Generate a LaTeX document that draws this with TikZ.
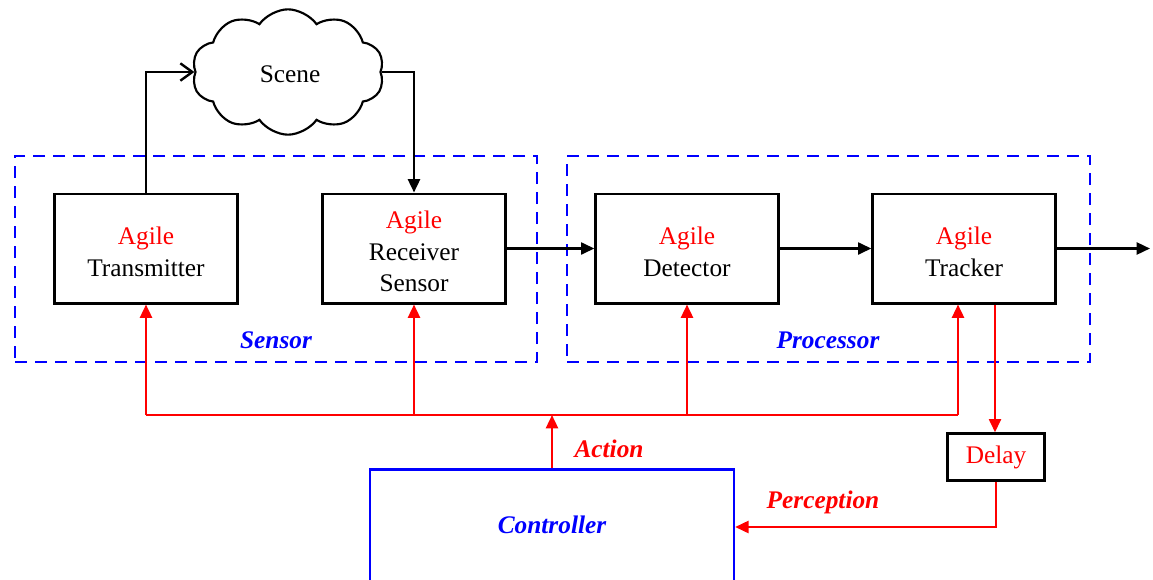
\documentclass[tikz,border=0pt]{standalone}
\usepackage{fontspec}
\setmainfont{Liberation Serif}
\usetikzlibrary{arrows.meta,shapes.symbols,calc}
\definecolor{agred}{RGB}{255,0,0}
\definecolor{agblue}{RGB}{0,0,255}
\begin{document}
\begin{tikzpicture}[x=0.75pt,y=-0.75pt,
  font=\fontsize{19}{23.8}\selectfont,
  block/.style={draw=black,line width=2pt,minimum width=137pt,minimum height=82pt,align=center,inner sep=0pt},
  group/.style={draw=agblue,line width=1.8pt,dash pattern=on 9pt off 6pt,inner sep=0pt},
  grouplabel/.style={text=agblue,font=\fontsize{19}{22}\selectfont\bfseries\itshape},
  sig/.style={draw=black,line width=1.8pt},
  sigarrow/.style={sig,-{Triangle[length=10pt,width=9pt]}},
  ctl/.style={draw=agred,line width=1.8pt},
  ctlarrow/.style={ctl,-{Triangle[length=10pt,width=9pt]}},
  ctllabel/.style={text=agred,font=\fontsize{19}{22}\selectfont\bfseries\itshape}]
\useasboundingbox (0,0) rectangle (1153,579);
\clip (0,0) rectangle (1153,579);

% dashed group frames
\node[group,minimum width=391.5pt,minimum height=154.5pt] (sensorgrp) at (276,259) {};
\node[group,minimum width=392.25pt,minimum height=154.5pt] (procgrp) at (828.5,259) {};
\node[grouplabel] (sensorlbl) at (276,340) {Sensor};
\node[grouplabel] (proclbl) at (828,340) {Processor};

% processing chain (text nudged slightly below the box centre)
\node[block] (tx)  at (146,248.5) {};
\node[block] (rx)  at (414,248.5) {};
\node[block] (det) at (687,248.5) {};
\node[block] (trk) at (964,248.5) {};
\node[align=center] (txt)  at (146,251.5) {\textcolor{agred}{Agile}\\Transmitter};
\node[align=center] (rxt)  at (414,251.5) {\textcolor{agred}{Agile}\\Receiver\\Sensor};
\node[align=center] (dett) at (687,251.5) {\textcolor{agred}{Agile}\\Detector};
\node[align=center] (trkt) at (964,251.5) {\textcolor{agred}{Agile}\\Tracker};

% scene
\node[cloud,cloud puffs=10,cloud puff arc=110,aspect=1.6,draw=black,line width=1.6pt,
      minimum width=144pt,minimum height=94pt,inner sep=0pt] (scene) at (288,72) {};
\node (scenet) at (290,74) {Scene};

% delay and controller
\node[draw=black,line width=2pt,minimum width=73pt,minimum height=35pt,inner sep=0pt,text=agred] (delay) at (996,457) {Delay};
\node[draw=agblue,line width=1.8pt,minimum width=273pt,minimum height=86pt,inner sep=0pt] (ctrl) at (552,527) {};
\node[grouplabel] (ctrllbl) at (552,525) {Controller};

% signal path
\draw[sig,-{Straight Barb[length=9pt,width=13pt]}] (tx.north) |- (scene.west);
\draw[sigarrow] (scene.east) -| (rx.north);
\draw[sigarrow] (rx.east) -- (det.west);
\draw[sigarrow] (det.east) -- (trk.west);
\coordinate (out) at (1150,248.5);
\draw[sigarrow] (trk.east) -- (out);

% control bus
\coordinate (bus) at (552,415);
\coordinate (trkin) at ([xshift=-4.5pt]trk.south);
\coordinate (trkout) at ([xshift=23.25pt]trk.south);
\draw[ctl] (tx.south |- bus) -- (trkin |- bus);
\draw[ctlarrow] (tx.south |- bus) -- (tx.south);
\draw[ctlarrow] (rx.south |- bus) -- (rx.south);
\draw[ctlarrow] (det.south |- bus) -- (det.south);
\draw[ctlarrow] (trkin |- bus) -- (trkin);
\draw[ctlarrow] (ctrl.north) -- (bus);
\node[ctllabel] (actionlbl) at (609,449) {Action};

% feedback through delay
\draw[ctlarrow] (trkout) -- (trkout |- delay.north);
\draw[ctlarrow] (delay.south) |- (ctrl.east);
\node[ctllabel] (perclbl) at (823,502) {Perception};
\end{tikzpicture}
\end{document}
